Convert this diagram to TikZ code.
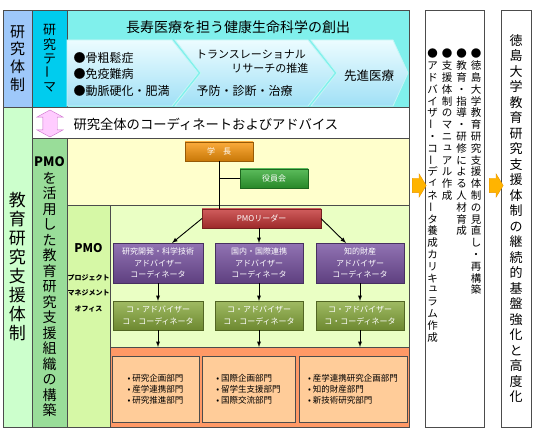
\documentclass[tikz,border=0pt]{standalone}
\usepackage{fontspec}
\setmainfont{Noto Sans CJK JP}
\usetikzlibrary{arrows, shapes.arrows}

\definecolor{taiseiblue}{RGB}{158,200,250}
\definecolor{themecyan}{RGB}{0,204,238}
\definecolor{kadaiteal}{RGB}{128,240,236}
\definecolor{chevtop}{RGB}{236,252,255}
\definecolor{chevbot}{RGB}{160,224,246}
\definecolor{chevedge}{RGB}{196,246,246}
\definecolor{shiengreen}{RGB}{204,255,204}
\definecolor{pmogreen}{RGB}{153,221,153}
\definecolor{keieiyellow}{RGB}{255,255,204}
\definecolor{officegreen}{RGB}{214,248,166}
\definecolor{soshikigreen}{RGB}{234,255,196}
\definecolor{bumonorange}{RGB}{255,153,102}
\definecolor{bumonpeach}{RGB}{255,204,153}
\definecolor{gakuchoorange}{RGB}{250,150,10}
\definecolor{yakuingreen}{RGB}{50,170,50}
\definecolor{leaderred}{RGB}{196,52,52}
\definecolor{advpurple}{RGB}{118,80,160}
\definecolor{coolive}{RGB}{136,170,60}
\definecolor{arrowfill}{RGB}{255,180,0}
\definecolor{arrowedge}{RGB}{235,150,0}
\definecolor{pinkfill}{RGB}{255,204,255}
\definecolor{pinkedge}{RGB}{204,110,204}

% vertical (tategaki) stacking of characters
\makeatletter
\def\tate@bar{ー}
\def\tate@si{ィ}
\def\tate@su{ュ}
\newcommand\tate[2][1.1em]{%
  \vbox{\baselineskip=#1\relax\lineskiplimit=-\maxdimen\lineskip=0pt
    \@tfor\tate@c:=#2\do{%
      \hbox to 1em{\hss
        \ifx\tate@c\tate@bar\raisebox{.17em}{\rotatebox[origin=c]{90}{ー}}%
        \else\ifx\tate@c\tate@si\raisebox{.22em}{\kern.12em ィ}%
        \else\ifx\tate@c\tate@su\raisebox{.22em}{\kern.12em ュ}%
        \else\tate@c\fi\fi\fi
        \hss}}}}
\makeatother

\begin{document}
\begin{tikzpicture}[x=1pt, y=-1pt,
    region/.style={draw=black!70, line width=0.6pt, inner sep=0pt, outer sep=0pt},
    unitbox/.style={draw=#1!60!black, top color=#1!80!white, bottom color=#1!80!black,
        text=white, inner sep=0pt, outer sep=0pt, align=center,
        font=\fontsize{8}{11.5}\selectfont},
    chevron/.style={draw=chevedge, line width=0.8pt, top color=chevtop, bottom color=chevbot},
    yajirushi/.style={single arrow, draw=arrowedge, fill=arrowfill, inner sep=0pt,
        inner ysep=7pt, single arrow head extend=4.5pt, single arrow tip angle=117,
        minimum height=14pt}]
    \useasboundingbox[fill=white] (0,0) rectangle (540,430);

    % columns and bands
    \node[region, fill=taiseiblue, minimum width=29, minimum height=97] (taisei) at (17.5,58.5)
        {\fontsize{15}{15}\selectfont\tate[17.7pt]{研究体制}};
    \node[region, fill=shiengreen, minimum width=29, minimum height=320] (shien) at (17.5,267)
        {\fontsize{17}{17}\selectfont\tate[19pt]{教育研究支援体制}};
    \node[region, fill=themecyan, minimum width=35, minimum height=97] (theme) at (49.5,58.5)
        {\fontsize{13}{13}\selectfont\tate[14.2pt]{研究テーマ}};
    \node[region, fill=kadaiteal, minimum width=342, minimum height=97] (kadai) at (238,58.5) {};
    \node[region, fill=white, minimum width=377, minimum height=31] (coordrow) at (220.5,122.5) {};
    \node[region, fill=pmogreen, minimum width=35, minimum height=289] (pmocol) at (49.5,282.5) {};
    \node[region, fill=keieiyellow, minimum width=342, minimum height=67] (keiei) at (238,171.5) {};
    \node[region, fill=officegreen, minimum width=43, minimum height=222] (office) at (88.5,316) {};
    \node[region, fill=soshikigreen, minimum width=299, minimum height=142] (soshiki) at (259.5,276) {};
    \node[region, fill=bumonorange, minimum width=299, minimum height=80] (bumon) at (259.5,387) {};
    \node[region, fill=white, minimum width=59, minimum height=417] (kaizen) at (454.5,218.5) {};
    \node[region, fill=white, minimum width=30, minimum height=417] (kyoka) at (516,218.5)
        {\fontsize{13}{13}\selectfont\tate[15.5pt]{徳島大学教育研究支援体制の継続的基盤強化と高度化}};

    % research theme
    \node[font=\fontsize{14}{14}\selectfont] (sousyutsu) at (238,27) {長寿医療を担う健康生命科学の創出};
    \draw[chevron] (67,40) -- (172,40) -- (198,73) -- (172,106) -- (67,106) -- cycle;
    \draw[chevron] (175,40) -- (308,40) -- (334,73) -- (308,106) -- (175,106) -- (201,73) -- cycle;
    \draw[chevron] (311,40) -- (393,40) -- (408,73) -- (393,106) -- (311,106) -- (337,73) -- cycle;
    \node[anchor=west, align=left, font=\fontsize{12}{16.5}\selectfont] (shikkan) at (70,74)
        {●骨粗鬆症\\●免疫難病\\●動脈硬化・肥満};
    \node[anchor=north west, align=left, inner sep=0pt, font=\fontsize{11}{14}\selectfont] (trans) at (196,50)
        {トランスレーショナル\\\hspace{3.2em}リサーチの推進};
    \node[anchor=west, font=\fontsize{12}{12}\selectfont] (yobou) at (193,91) {予防・診断・治療};
    \node[font=\fontsize{12.5}{12.5}\selectfont] (sentan) at (369,76) {先進医療};

    \node[double arrow, rotate=90, draw=pinkedge, fill=pinkfill, inner sep=0pt, inner ysep=7pt,
        double arrow head extend=6pt, double arrow tip angle=123, minimum height=27pt] (sougo) at (50,123.5) {};
    \node[anchor=west, font=\fontsize{13.3}{13.3}\selectfont] (coordtext) at (70,124)
        {研究全体のコーディネートおよびアドバイス};

    % PMO
    \node[inner sep=0pt, font=\bfseries\fontsize{13}{13}\selectfont] (pmo) at (49.5,162) {PMO};
    \node[anchor=north, inner sep=0pt, font=\fontsize{14}{14}\selectfont] (katsuyou) at (49.5,172)
        {\tate[15.5pt]{を活用した教育研究支援組織の構築}};
    \node[font=\bfseries\fontsize{12}{12}\selectfont] (pmo2) at (88.5,248) {PMO};
    \node[align=center, font=\bfseries\fontsize{7}{15.5}\selectfont] (pmofull) at (88.5,293)
        {プロジェクト\\マネジメント\\オフィス};

    \node[unitbox=gakuchoorange, minimum width=68, minimum height=19] (gakucho) at (219,151.5) {学　長};
    \node[unitbox=yakuingreen, minimum width=68, minimum height=19] (yakuin) at (274,178.5) {役員会};
    \node[unitbox=leaderred, minimum width=119, minimum height=19] (leader) at (261.5,218.5) {PMOリーダー};

    \node[unitbox=advpurple, minimum width=90, minimum height=40] (kenkyu) at (158,263)
        {研究開発・科学技術\\アドバイザー\\コーディネータ};
    \node[unitbox=advpurple, minimum width=88, minimum height=40] (kokusai) at (259,263)
        {国内・国際連携\\アドバイザー\\コーディネータ};
    \node[unitbox=advpurple, minimum width=88, minimum height=40] (chizai) at (360,263)
        {知的財産\\アドバイザー\\コーディネータ};
    \node[unitbox=coolive, minimum width=90, minimum height=29] (kenkyuco) at (158,315.5)
        {コ・アドバイザー\\コ・コーディネータ};
    \node[unitbox=coolive, minimum width=88, minimum height=29] (kokusaico) at (259,315.5)
        {コ・アドバイザー\\コ・コーディネータ};
    \node[unitbox=coolive, minimum width=88, minimum height=29] (chizaico) at (360,315.5)
        {コ・アドバイザー\\コ・コーディネータ};

    \node[region, fill=bumonpeach, minimum width=87, minimum height=66, align=left,
        font=\fontsize{8.5}{11}\selectfont] (kenkyubu) at (155.5,389)
        {•\ 研究企画部門\\•\ 産学連携部門\\•\ 研究推進部門};
    \node[region, fill=bumonpeach, minimum width=93, minimum height=66, align=left,
        font=\fontsize{8.5}{11}\selectfont] (kokusaibu) at (248.5,389)
        {•\ 国際企画部門\\•\ 留学生支援部門\\•\ 国際交流部門};
    \node[region, fill=bumonpeach, minimum width=108, minimum height=66, align=left,
        font=\fontsize{8.5}{11}\selectfont] (chizaibu) at (353,389)
        {•\ 産学連携研究企画部門\\•\ 知的財産部門\\•\ 新技術研究部門};

    \draw[line width=0.9pt]
          (gakucho) edge (gakucho.south |- leader.north)
          (gakucho.south |- yakuin.west) edge (yakuin)
          (leader.west) edge[-latex] (kenkyu.55)
          (leader.south -| kokusai) edge[-latex] (kokusai)
          (leader.east) edge[-latex] (chizai.125)
          (kenkyu) edge[-latex] (kenkyuco)
          (kokusai) edge[-latex] (kokusaico)
          (chizai) edge[-latex] (chizaico)
          (kenkyuco) edge[-latex] (kenkyuco |- bumon.north)
          (kokusaico) edge[-latex] (kokusaico |- bumon.north)
          (chizaico) edge[-latex] (chizaico |- bumon.north)
          ;

    % outcomes
    \node[yajirushi] (ya1) at (417,185.5) {};
    \node[yajirushi] (ya2) at (494,185.5) {};
    \node[anchor=north, inner sep=0pt, font=\fontsize{10.5}{10.5}\selectfont] (minaoshi) at (476,49)
        {\tate[11.8pt]{●徳島大学教育研究支援体制の見直し・再構築}};
    \node[anchor=north, inner sep=0pt, font=\fontsize{10.5}{10.5}\selectfont] (jinzai) at (461.5,49)
        {\tate[11.8pt]{●教育・指導・研修による人材育成}};
    \node[anchor=north, inner sep=0pt, font=\fontsize{10.5}{10.5}\selectfont] (manual) at (447,49)
        {\tate[11.8pt]{●支援体制のマニュアル作成}};
    \node[anchor=north, inner sep=0pt, font=\fontsize{10.5}{10.5}\selectfont] (curriculum) at (432.5,49)
        {\tate[11.8pt]{●アドバイザー・コーディネータ養成カリキュラム作成}};
\end{tikzpicture}
\end{document}
